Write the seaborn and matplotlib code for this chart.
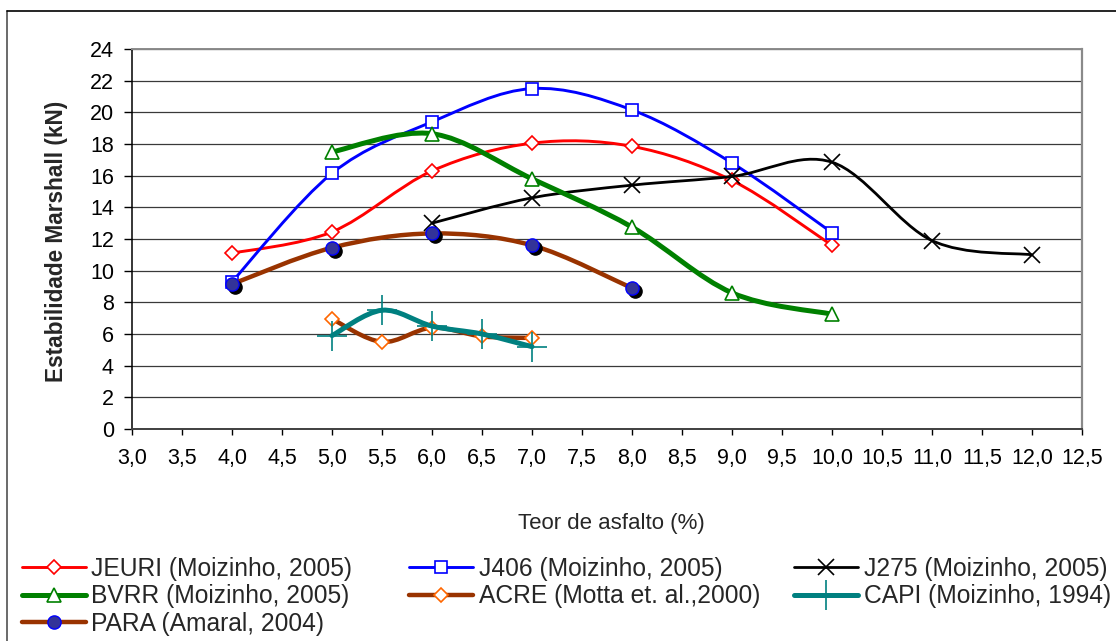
import numpy as np
import matplotlib
matplotlib.use("Agg")
import matplotlib.pyplot as plt
import seaborn as sns
from matplotlib.path import Path
from matplotlib.patches import PathPatch
from matplotlib.lines import Line2D
import matplotlib.transforms as mtransforms
from matplotlib.ticker import MultipleLocator, FuncFormatter

# ---------------- data ----------------
jeuri_x = [4, 5, 6, 7, 8, 9, 10]
jeuri_y = [11.1, 12.45, 16.3, 18.05, 17.85, 15.7, 11.6]

j406_x = [4, 5, 6, 7, 8, 9, 10]
j406_y = [9.3, 16.15, 19.4, 21.5, 20.15, 16.8, 12.4]

j275_x = [6, 7, 8, 9, 10, 11, 12]
j275_y = [13.0, 14.6, 15.4, 15.95, 16.85, 11.9, 11.0]

bvrr_x = [5, 6, 7, 8, 9, 10]
bvrr_y = [17.5, 18.65, 15.8, 12.75, 8.6, 7.25]

acre_x = [5, 5.5, 6, 6.5, 7]
acre_y = [6.95, 5.5, 6.4, 5.85, 5.75]

capi_x = [5, 5.5, 6, 6.5, 7]
capi_y = [5.9, 7.5, 6.5, 6.0, 5.2]

para_x = [4, 5, 6, 7, 8]
para_y = [9.15, 11.45, 12.35, 11.6, 8.9]

labels = ["JEURI (Moizinho, 2005)", "J406 (Moizinho, 2005)", "J275 (Moizinho, 2005)",
          "BVRR (Moizinho, 2005)", "ACRE (Motta et. al.,2000)", "CAPI (Moizinho, 1994)",
          "PARA (Amaral, 2004)"]

x_label = "Teor de asfalto (%)"
y_label = "Estabilidade Marshall (kN)"

# ---------------- styles ----------------
styles = [
    dict(x=jeuri_x, y=jeuri_y, color="#FF0000", lw=2.1, marker="D", ms=7.2,
         mfc="white", mec="#FF0000", mew=1.2),
    dict(x=j406_x, y=j406_y, color="#0000FF", lw=2.1, marker="s", ms=8.8,
         mfc="white", mec="#0000FF", mew=1.2),
    dict(x=j275_x, y=j275_y, color="#000000", lw=2.0, marker="x", ms=11,
         mfc="#000000", mec="#000000", mew=1.2),
    dict(x=bvrr_x, y=bvrr_y, color="#008000", lw=3.6, marker="^", ms=9.5,
         mfc="white", mec="#008000", mew=1.2),
    dict(x=acre_x, y=acre_y, color="#993300", lw=3.2, marker="D", ms=7.2,
         mfc="white", mec="#FF6600", mew=1.2),
    dict(x=capi_x, y=capi_y, color="#008080", lw=3.6, marker="+", ms=21,
         mfc="#008080", mec="#008080", mew=1.2),
    dict(x=para_x, y=para_y, color="#993300", lw=3.2, marker="o", ms=9.5,
         mfc="#333399", mec="#0000FF", mew=1.0),
]

W, H = 1116, 641
sns.set_theme(style="white")
plt.rcParams["font.family"] = ["Liberation Sans", "DejaVu Sans"]

fig = plt.figure(figsize=(W / 100, H / 100), dpi=100)
ax = fig.add_axes([132 / W, 1 - 429 / H, 950 / W, 380 / H])


def smooth_path(xs, ys):
    pts = np.column_stack([xs, ys]).astype(float)
    n = len(pts)
    verts = [pts[0]]
    codes = [Path.MOVETO]
    for i in range(n - 1):
        p0 = pts[i - 1] if i > 0 else pts[i]
        p1 = pts[i]
        p2 = pts[i + 1]
        p3 = pts[i + 2] if i + 2 < n else pts[i + 1]
        verts += [p1 + (p2 - p0) / 6.0, p2 - (p3 - p1) / 6.0, p2]
        codes += [Path.CURVE4] * 3
    return Path(verts, codes)


handles = []
for k, st in enumerate(styles):
    z = 3 + 2 * k
    patch = PathPatch(smooth_path(st["x"], st["y"]), facecolor="none",
                      edgecolor=st["color"], lw=st["lw"], capstyle="round",
                      joinstyle="round", zorder=z)
    ax.add_patch(patch)
    if k == 6:  # shadow behind PARA markers
        off = mtransforms.ScaledTranslation(3 / 100, -3 / 100, fig.dpi_scale_trans)
        ax.plot(st["x"], st["y"], linestyle="none", marker="o", ms=st["ms"],
                mfc="black", mec="black", transform=ax.transData + off, zorder=z + 0.5)
    sns.lineplot(x=st["x"], y=st["y"], ax=ax, linestyle="none", marker=st["marker"],
                 markersize=st["ms"], markerfacecolor=st["mfc"],
                 markeredgecolor=st["mec"], markeredgewidth=st["mew"],
                 color=st["color"], estimator=None, sort=False, errorbar=None,
                 zorder=z + 1, legend=False)
    handles.append(Line2D([], [], color=st["color"], lw=st["lw"], marker=st["marker"],
                          ms=st["ms"], mfc=st["mfc"], mec=st["mec"], mew=st["mew"]))

ax.set_xlim(3, 12.5)
ax.set_ylim(0, 24)
ax.xaxis.set_major_locator(MultipleLocator(0.5))
ax.yaxis.set_major_locator(MultipleLocator(2))
ax.xaxis.set_major_formatter(FuncFormatter(lambda v, p: f"{v:.1f}".replace(".", ",")))
ax.yaxis.set_major_formatter(FuncFormatter(lambda v, p: f"{v:.0f}"))
ax.yaxis.grid(True, color="#3a3a3a", lw=0.9)
ax.xaxis.grid(False)
ax.set_axisbelow(True)

ax.spines["left"].set_color("#000000")
ax.spines["left"].set_linewidth(1.1)
ax.spines["bottom"].set_color("#404040")
ax.spines["bottom"].set_linewidth(1.4)
ax.spines["top"].set_color("#8a8a8a")
ax.spines["top"].set_linewidth(1.4)
ax.spines["right"].set_color("#8a8a8a")
ax.spines["right"].set_linewidth(1.6)

ax.tick_params(axis="y", left=True, direction="out", length=6, width=1, pad=7,
               labelsize=15.5, colors="#000000")
ax.tick_params(axis="x", bottom=True, direction="out", length=4.5, width=1, pad=9,
               labelsize=15.5, colors="#000000")
ax.set_xlabel("")
ax.set_ylabel("")

fig.text(611 / W, 1 - 524 / H, x_label, ha="center", va="center", fontsize=16)
fig.text(56 / W, 1 - 241 / H, y_label, ha="center", va="center", rotation=90,
         fontsize=16.3, fontweight="bold")

# outer chart frame
fig.add_artist(Line2D([7 / W, 7 / W], [0, 1 - 11 / H], transform=fig.transFigure,
                      color="#505050", lw=1.2))
fig.add_artist(Line2D([7 / W, 1], [1 - 11 / H, 1 - 11 / H], transform=fig.transFigure,
                      color="#000000", lw=1.2))

# legend: three columns of equal width
cols = [([0, 3, 6], 21.5), ([1, 4], 409), ([2, 5], 794)]
for idx, xpx in cols:
    leg = fig.legend([handles[i] for i in idx], [labels[i] for i in idx],
                     loc="upper left", bbox_to_anchor=(xpx / W, 1 - 557 / H),
                     frameon=False, fontsize=17.7, handlelength=2.62,
                     handletextpad=0.22, labelspacing=0.14, borderpad=0,
                     borderaxespad=0, numpoints=1)

fig.savefig("out.png", dpi=100)
